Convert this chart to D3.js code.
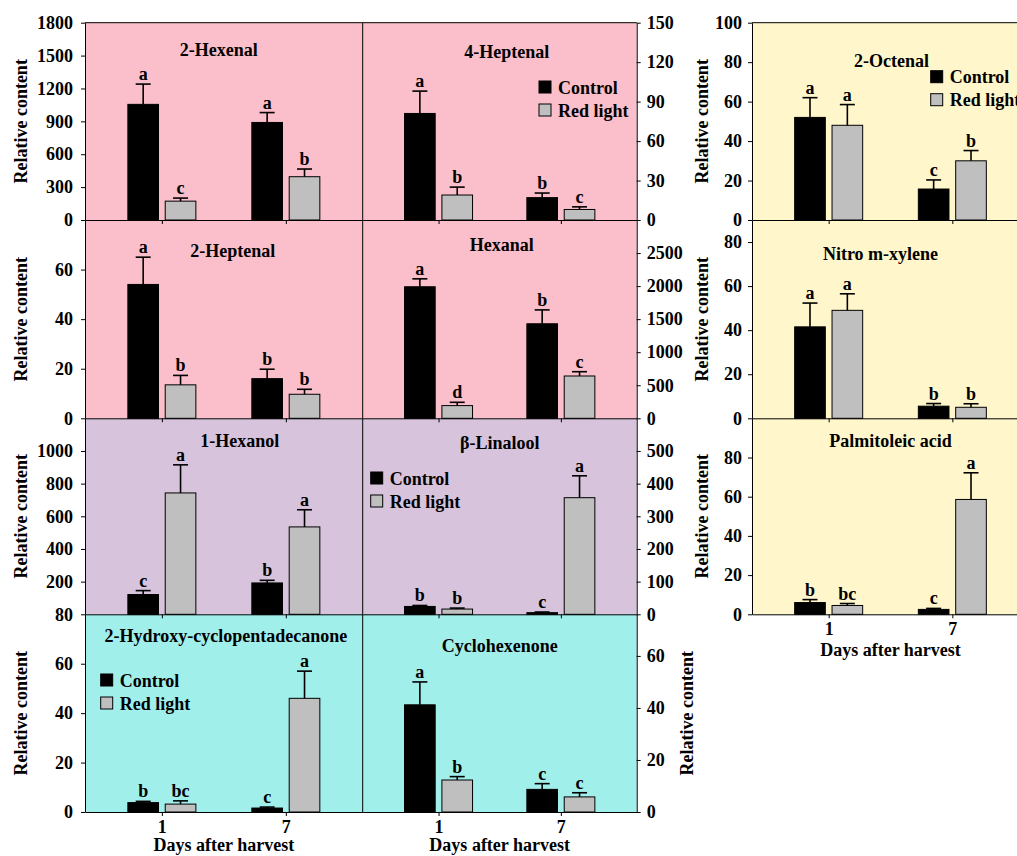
<!DOCTYPE html>
<html>
<head>
<meta charset="utf-8">
<script src="https://cdn.jsdelivr.net/npm/d3@7"></script>
<style>
body { margin: 0; background: #fff; }
svg text { font-family: "Liberation Serif", "Times New Roman", serif; font-weight: bold; font-size: 18px; fill: #000; }
</style>
</head>
<body>
<svg id="chart" width="1017" height="856"></svg>
<script>
// ---- data ----
var days = ["1", "7"];
var series = ["Control", "Red light"];
var compounds = ["2-Hexenal", "4-Heptenal", "2-Octenal", "2-Heptenal", "Hexanal", "Nitro m-xylene",
	"1-Hexanol", "β-Linalool", "Palmitoleic acid", "2-Hydroxy-cyclopentadecanone", "Cyclohexenone"];
var controlMeans = [[1055, 890], [81, 17], [52, 15.7], [54, 16], [1990, 1430], [41.5, 5.5],
	[121, 192], [24, 5], [6, 2.5], [3.8, 1.6], [41.2, 8.7]];
var controlErrors = [[185, 90], [17, 3.5], [10, 4.6], [11, 3.8], [120, 210], [10.8, 1.2],
	[24, 16], [3, 2], [1.5, 0.5], [0.5, 0.4], [8.8, 2.2]];
var redMeans = [[172, 395], [19, 8], [48, 30], [13.5, 9.7], [192, 640], [49, 5],
	[743, 535], [16, 357], [4.5, 58.6], [3.2, 46], [12.3, 5.8]];
var redErrors = [[28, 70], [6, 2], [10.5, 5.2], [3.8, 2], [50, 65], [7.5, 1.6],
	[172, 105], [3, 67], [1, 13.6], [1.3, 11], [1.3, 1.6]];
var controlLetters = [["a", "a"], ["a", "b"], ["a", "c"], ["a", "b"], ["a", "b"], ["a", "b"],
	["c", "b"], ["b", "c"], ["b", "c"], ["b", "c"], ["a", "c"]];
var redLetters = [["c", "b"], ["b", "c"], ["a", "b"], ["b", "b"], ["d", "c"], ["a", "b"],
	["a", "a"], ["b", "a"], ["bc", "a"], ["bc", "a"], ["b", "c"]];
var yMax = [1800, 150, 100, 80, 3000, 90, 1200, 600, 100, 80, 76];
var yTicks = [
	[0, 300, 600, 900, 1200, 1500, 1800], [0, 30, 60, 90, 120, 150], [0, 20, 40, 60, 80, 100],
	[0, 20, 40, 60], [0, 500, 1000, 1500, 2000, 2500], [0, 20, 40, 60, 80],
	[200, 400, 600, 800, 1000], [0, 100, 200, 300, 400, 500], [0, 20, 40, 60, 80],
	[0, 20, 40, 60, 80], [0, 20, 40, 60]];

// ---- layout ----
var colX = [[85, 362.7], [362.7, 636.7], [752, 1029]];
var rowY = [22.7, 220, 418.3, 614.3, 812];
var pink = "#fabfca", lilac = "#d7c3dc", cyan = "#a1efeb", yellow = "#fff7cb";
var barColors = ["#000000", "#bfbfbf"];

var layout = [
	{col: 0, row: 0, bg: pink,   tdx: -5, tdy: 33,   legend: null},
	{col: 1, row: 0, bg: pink,   tdx: 7,  tdy: 35.6, legend: [176.3, 58.3]},
	{col: 2, row: 0, bg: yellow, tdx: 1,  tdy: 44,   legend: [178.7, 48]},
	{col: 0, row: 1, bg: pink,   tdx: 9,  tdy: 37,   legend: null},
	{col: 1, row: 1, bg: pink,   tdx: 2,  tdy: 30.6, legend: null},
	{col: 2, row: 1, bg: yellow, tdx: -10, tdy: 40,  legend: null},
	{col: 0, row: 2, bg: lilac,  tdx: 16, tdy: 29,   legend: null},
	{col: 1, row: 2, bg: lilac,  tdx: 0,  tdy: 31,   legend: [8, 53.7]},
	{col: 2, row: 2, bg: yellow, tdx: 0,  tdy: 29,   legend: null},
	{col: 0, row: 3, bg: cyan,   tdx: 2,  tdy: 27.3, legend: [15.7, 59.7]},
	{col: 1, row: 3, bg: cyan,   tdx: 0,  tdy: 38,   legend: null}
];
// x of "Relative content" baseline (rotated), per panel
var yTitleX = [27, null, 708, 27, null, 708, 27, null, 708, 27, 693];
var bottomRow = [3, 3, 2];

var svg = d3.select("#chart");

// backgrounds first so ticks that spill into neighbours stay visible
layout.forEach(function(p) {
	svg.append("rect")
		.attr("x", colX[p.col][0]).attr("y", rowY[p.row])
		.attr("width", colX[p.col][1] - colX[p.col][0])
		.attr("height", rowY[p.row + 1] - rowY[p.row])
		.attr("fill", p.bg);
});

layout.forEach(function(p, i) {
	var x0 = colX[p.col][0], w = colX[p.col][1] - x0;
	var y0 = rowY[p.row], h = rowY[p.row + 1] - y0;
	var g = svg.append("g").attr("transform", "translate(" + x0 + "," + y0 + ")");

	var xScale = d3.scalePoint().domain(days).range([0, w]).padding(0.62);
	var sScale = d3.scaleBand().domain(series).range([-34, 34]).paddingInner(0.18);
	var yScale = d3.scaleLinear().domain([0, yMax[i]]).range([h, 0]);

	var means = [controlMeans[i], redMeans[i]];
	var errs = [controlErrors[i], redErrors[i]];
	var letters = [controlLetters[i], redLetters[i]];

	var bars = [];
	series.forEach(function(s, si) {
		days.forEach(function(d, di) {
			bars.push({s: s, si: si, d: d, v: means[si][di], e: errs[si][di], l: letters[si][di]});
		});
	});

	// bars
	g.selectAll("rect.bar").data(bars).enter().append("rect")
		.attr("class", "bar")
		.attr("x", function(b) { return xScale(b.d) + sScale(b.s); })
		.attr("y", function(b) { return yScale(b.v); })
		.attr("width", sScale.bandwidth())
		.attr("height", function(b) { return h - yScale(b.v); })
		.attr("fill", function(b) { return barColors[b.si]; })
		.attr("stroke", "#000").attr("stroke-width", 1);

	// error bars (upper only)
	var cx = function(b) { return xScale(b.d) + sScale(b.s) + sScale.bandwidth() / 2; };
	g.selectAll("line.err").data(bars).enter().append("line")
		.attr("x1", cx).attr("x2", cx)
		.attr("y1", function(b) { return yScale(b.v); })
		.attr("y2", function(b) { return yScale(b.v + b.e); })
		.attr("stroke", "#000").attr("stroke-width", 1.6);
	g.selectAll("line.cap").data(bars).enter().append("line")
		.attr("x1", function(b) { return cx(b) - 7.5; })
		.attr("x2", function(b) { return cx(b) + 7.5; })
		.attr("y1", function(b) { return yScale(b.v + b.e); })
		.attr("y2", function(b) { return yScale(b.v + b.e); })
		.attr("stroke", "#000").attr("stroke-width", 1.6);
	g.selectAll("text.sig").data(bars).enter().append("text")
		.attr("x", cx)
		.attr("y", function(b) { return yScale(b.v + b.e) - 4; })
		.attr("text-anchor", "middle")
		.text(function(b) { return b.l; });

	// frame lines
	if (p.row == 0) g.append("line").attr("x1", 0).attr("x2", w).attr("y1", 0).attr("y2", 0).attr("stroke", "#000");
	if (p.col == 0) g.append("line").attr("x1", w).attr("x2", w).attr("y1", 0).attr("y2", h).attr("stroke", "#000");

	// x axis
	var isBottom = bottomRow[p.col] == p.row;
	var xAxis = d3.axisBottom(xScale).tickSize(4).tickSizeOuter(0).tickPadding(4);
	if (!isBottom) xAxis.tickFormat("");
	var gx = g.append("g").attr("transform", "translate(0," + h + ")").call(xAxis);
	gx.attr("font-size", null).attr("font-family", null);

	// y axis
	var yAxis = (p.col == 1 ? d3.axisRight(yScale) : d3.axisLeft(yScale))
		.tickValues(yTicks[i]).tickFormat(d3.format("d"))
		.tickSize(4).tickSizeOuter(0).tickPadding(p.col == 0 ? 8 : 6);
	var gy = g.append("g").attr("transform", "translate(" + (p.col == 1 ? w : 0) + ",0)").call(yAxis);
	gy.attr("font-size", null).attr("font-family", null);

	// title
	g.append("text").attr("x", w / 2 + p.tdx).attr("y", p.tdy)
		.attr("text-anchor", "middle").text(compounds[i]);

	// x axis title (kept inside the 856px frame)
	if (isBottom) {
		g.append("text").attr("x", w / 2).attr("y", Math.min(h + 42, 851 - y0))
			.attr("text-anchor", "middle").text("Days after harvest");
	}

	// y axis title
	if (yTitleX[i] != null) {
		svg.append("text")
			.attr("transform", "translate(" + yTitleX[i] + "," + (y0 + h / 2) + ") rotate(-90)")
			.attr("text-anchor", "middle").text("Relative content");
	}

	// legend
	if (p.legend) {
		var lg = g.append("g").attr("transform", "translate(" + p.legend[0] + "," + p.legend[1] + ")");
		series.forEach(function(s, si) {
			lg.append("rect").attr("x", 0).attr("y", si * 23).attr("width", 12).attr("height", 12)
				.attr("fill", barColors[si]).attr("stroke", "#000");
			lg.append("text").attr("x", 19).attr("y", si * 23 + 12.5).text(s);
		});
	}
});
</script>
</body>
</html>
